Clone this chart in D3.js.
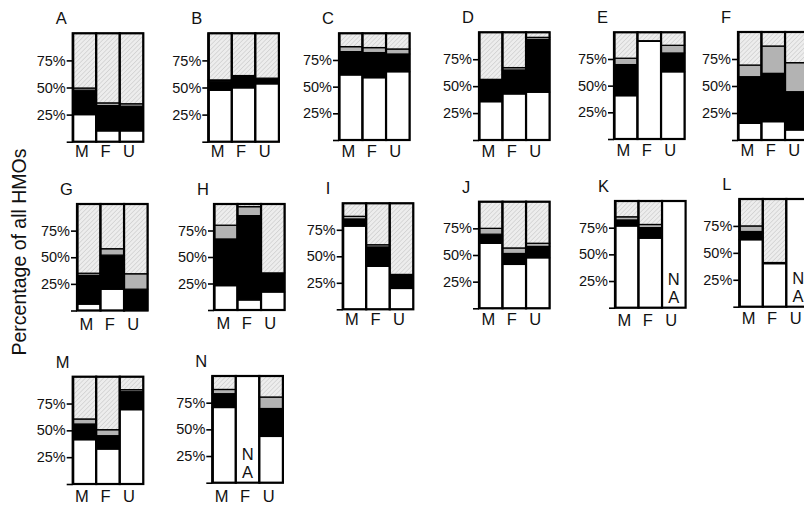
<!DOCTYPE html>
<html>
<head>
<meta charset="utf-8">
<script src="https://cdn.jsdelivr.net/npm/d3@7"></script>
<style>
  body { margin: 0; background: #fff; }
  svg { display: block; font-family: "Liberation Sans", Arial, Helvetica, sans-serif; }
</style>
</head>
<body>
<svg id="chart" width="804" height="506"></svg>
<script>
// Panels and the three groups shown in each
const panels = ["A", "B", "C", "D", "E", "F", "G", "H", "I", "J", "K", "L", "M", "N"];
const groups = ["M", "F", "U"];

// Share of all HMOs (%) per stacked layer, one [M, F, U] triple per panel.
// null marks a group with no data (drawn as an empty "NA" bar).
// The hatched top layer is whatever remains up to 100%.
const whiteShare = [
  [25, 10, 10], [47.5, 49.7, 53.4], [61, 58.4, 64], [35.6, 42.8, 44.4],
  [40.6, 91.6, 63], [15.5, 17, 9.3], [6, 20, 0], [23, 9.5, 17],
  [78.5, 40.6, 19.7], [61, 41.2, 47.4], [76.6, 65.2, null], [62.2, 40, null],
  [41.3, 32.6, 69.3], [70.5, null, 43.4]
];
const blackShare = [
  [22.5, 23.3, 22.7], [8.4, 10.3, 4], [21.8, 23.5, 16.6], [19.7, 22.2, 49],
  [29.1, 0.5, 17.6], [43.1, 44.7, 35.4], [27, 32, 20], [44, 79.5, 18],
  [6.7, 18.2, 13.2], [8.5, 10.2, 10.6], [5.6, 9.8, null], [7.6, 1, null],
  [14.6, 12.4, 16.7], [12.9, null, 26.1]
];
const grayShare = [
  [2, 2.5, 2.3], [1.1, 1, 1.2], [4.7, 4.7, 4.7], [1, 2.2, 1.9],
  [6, 0, 7.2], [10.8, 25.3, 26.9], [2, 6, 14.5], [13, 8.5, 0],
  [2.5, 2.1, 0], [5.5, 5.2, 3], [3, 3, null], [5.2, 0, null],
  [4.7, 5.6, 1.9], [4, null, 10.8]
];
const yTicks = [0, 25, 50, 75];
const naLabel = ["N", "A"];
const yTitle = "Percentage of all HMOs";

// Panel frames: left axis x, plot top, plot bottom, category label top
const frames = [
  [72.7, 33.3, 141.7, 145], [208.3, 33.3, 141.7, 145], [339, 33.3, 140, 145],
  [479, 32.3, 140, 145], [614, 32.3, 139, 144.5], [738, 32, 140, 144],
  [77, 204, 310.5, 318], [214, 204, 310, 317], [342.7, 203.3, 309.3, 313.5],
  [479, 201.7, 308.3, 313], [615, 201, 307.7, 314], [739.3, 199, 306.7, 312],
  [72.7, 376.7, 484, 490], [212.3, 376, 482.7, 490]
];

const plotWidth = 70.6;
const svg = d3.select("#chart");

// fine diagonal hatching for the top layer
const defs = svg.append("defs");
const pat = defs.append("pattern")
  .attr("id", "hatch")
  .attr("patternUnits", "userSpaceOnUse")
  .attr("width", 3.2).attr("height", 3.2)
  .attr("patternTransform", "rotate(45)");
pat.append("rect").attr("width", 3.2).attr("height", 3.2).attr("fill", "#ededed");
pat.append("line").attr("x1", 0).attr("y1", 0).attr("x2", 0).attr("y2", 3.2)
  .attr("stroke", "#bdbdbd").attr("stroke-width", 0.9);

const layerFills = ["#ffffff", "#000000", "#b3b3b3", "url(#hatch)"];

// y-axis title
svg.append("text")
  .attr("transform", "translate(26,252) rotate(-90)")
  .attr("text-anchor", "middle")
  .attr("font-size", 19.5)
  .attr("fill", "#111")
  .text(yTitle);

panels.forEach((name, i) => {
  const [ax, top, bottom, labelTop] = frames[i];
  const h = bottom - top;
  const g = svg.append("g").attr("transform", `translate(${ax},${top})`);

  const y = d3.scaleLinear().domain([0, 100]).range([h, 0]);
  const x = d3.scaleBand().domain(groups).range([0, plotWidth]).padding(0);

  // panel letter
  g.append("text")
    .attr("x", -17).attr("y", -9)
    .attr("font-size", 16.5)
    .attr("fill", "#111")
    .text(name);

  groups.forEach((grp, j) => {
    const w = whiteShare[i][j];
    const bx = x(grp), bw = x.bandwidth();
    if (w === null) {
      // group without data
      g.append("rect")
        .attr("x", bx).attr("y", y(100))
        .attr("width", bw).attr("height", y(0) - y(100))
        .attr("fill", "#fff");
      naLabel.forEach((ch, k) => {
        g.append("text")
          .attr("x", bx + bw / 2)
          .attr("y", y(0) - (k === 0 ? 22.5 : 4.5))
          .attr("text-anchor", "middle")
          .attr("font-size", 16.5)
          .attr("fill", "#111")
          .text(ch);
      });
    } else {
      const vals = [w, blackShare[i][j], grayShare[i][j]];
      vals.push(Math.max(0, 100 - d3.sum(vals)));
      let acc = 0;
      const segs = vals.map((v, k) => {
        const s = { y0: acc, y1: acc + v, fill: layerFills[k] };
        acc += v;
        return s;
      });
      g.selectAll(null)
        .data(segs.filter(s => s.y1 > s.y0))
        .join("rect")
        .attr("x", bx).attr("width", bw)
        .attr("y", d => y(d.y1))
        .attr("height", d => y(d.y0) - y(d.y1))
        .attr("fill", d => d.fill)
        .attr("stroke", "#000")
        .attr("stroke-width", 1.3);
    }
    // bar outline
    g.append("rect")
      .attr("x", bx).attr("y", y(100))
      .attr("width", bw).attr("height", y(0) - y(100))
      .attr("fill", "none")
      .attr("stroke", "#000")
      .attr("stroke-width", 2.2);

    // group label
    g.append("text")
      .attr("x", bx + bw / 2 - 2.5)
      .attr("y", labelTop - top + 11.6)
      .attr("text-anchor", "middle")
      .attr("font-size", 16.5)
      .attr("fill", "#111")
      .text(grp);
  });

  // left axis
  const axis = g.append("g")
    .call(d3.axisLeft(y)
      .tickValues(yTicks)
      .tickFormat(d => d === 0 ? "" : d + "%")
      .tickSize(6)
      .tickPadding(1)
      .tickSizeOuter(0));
  axis.select(".domain").attr("stroke-width", 2.2);
  axis.selectAll(".tick line").attr("stroke-width", 1.6);
  axis.selectAll(".tick text")
    .attr("font-size", 14.5)
    .attr("font-family", "Liberation Sans, Arial, sans-serif")
    .attr("fill", "#111");
});
</script>
</body>
</html>
